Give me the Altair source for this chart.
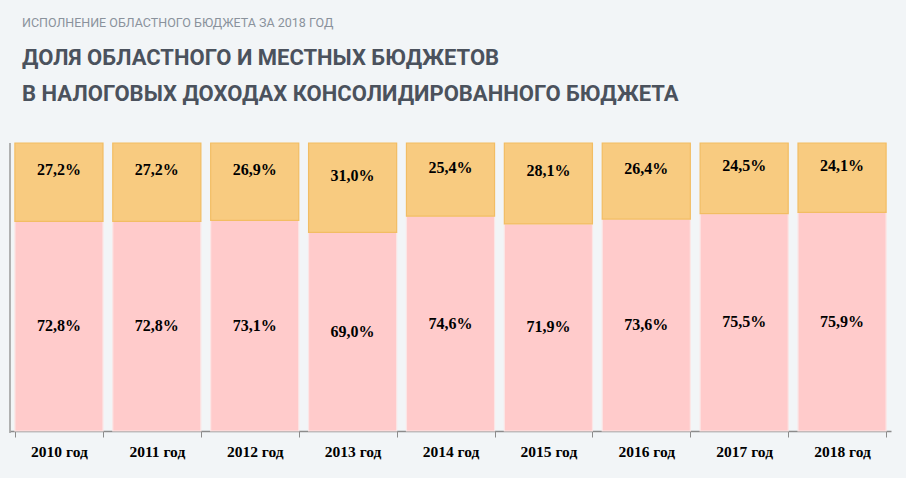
import altair as alt
import pandas as pd

years = ["2010 год", "2011 год", "2012 год", "2013 год", "2014 год",
         "2015 год", "2016 год", "2017 год", "2018 год"]
regional = [72.8, 72.8, 73.1, 69.0, 74.6, 71.9, 73.6, 75.5, 75.9]
local = [27.2, 27.2, 26.9, 31.0, 25.4, 28.1, 26.4, 24.5, 24.1]

def fmt(v):
    return f"{v:.1f}".replace(".", ",") + "%"

rows = []
for y, r, l in zip(years, regional, local):
    rows.append({"year": y, "part": "Областной бюджет", "value": r, "ord": 0,
                 "label": fmt(r), "y0": 0.0, "y1": r})
    rows.append({"year": y, "part": "Местные бюджеты", "value": l, "ord": 1,
                 "label": fmt(l), "y0": r, "y1": r + l})
df = pd.DataFrame(rows)
df["mid"] = (df["y0"] + df["y1"]) / 2

W, H = 881, 288

xenc = alt.X("year:N", sort=years,
             scale=alt.Scale(paddingInner=0.1, paddingOuter=0.05),
             axis=alt.Axis(title=None, labelAngle=0, labelFont="Liberation Serif",
                           labelFontWeight="bold", labelFontSize=15.5, labelColor="#000000",
                           labelPadding=7, domainColor="#8c8c8c", tickColor="#8c8c8c",
                           tickSize=6, tickBand="extent", domainWidth=1.5))
yscale = alt.Scale(domain=[0, 100], nice=False)

base = alt.Chart(df)

shadow = base.transform_filter(alt.datum.ord == 1).mark_bar(
    color="#d6dadd", width=alt.RelativeBandSize(0.97)
).encode(
    x=xenc,
    y=alt.Y("y1:Q", scale=yscale, axis=None),
    y2=alt.datum(0),
)

bars = base.mark_bar(strokeWidth=1.2).encode(
    x=xenc,
    y=alt.Y("y0:Q", scale=yscale, axis=None),
    y2="y1:Q",
    color=alt.Color("part:N", scale=alt.Scale(domain=["Областной бюджет", "Местные бюджеты"],
                                              range=["#ffcbcb", "#f8cb80"]), legend=None),
    stroke=alt.Stroke("part:N", scale=alt.Scale(domain=["Областной бюджет", "Местные бюджеты"],
                                                range=["#fbe6e6", "#f2bd63"]), legend=None),
)

labels_low = base.transform_filter(alt.datum.ord == 0).mark_text(
    font="Liberation Serif", fontWeight="bold", fontSize=16, color="#000000"
).encode(x=xenc, y=alt.Y("mid:Q", scale=yscale), text="label:N")

labels_high = base.transform_filter(alt.datum.ord == 1).mark_text(
    font="Liberation Serif", fontWeight="bold", fontSize=16, color="#000000", dy=-12
).encode(x=xenc, y=alt.Y("mid:Q", scale=yscale), text="label:N")

left_rule = alt.Chart(pd.DataFrame({"a": [0]})).mark_rule(color="#9a9a9a", strokeWidth=1.5).encode(
    x=alt.value(0), y=alt.value(0), y2=alt.value(H + 2))

tdf = pd.DataFrame({"a": [0]})
sub = alt.Chart(tdf).mark_text(
    text="ИСПОЛНЕНИЕ ОБЛАСТНОГО БЮДЖЕТА ЗА 2018 ГОД", align="left", baseline="alphabetic",
    font="Roboto", fontSize=12.5, color="#8a929c"
).encode(x=alt.value(12), y=alt.value(-116))
t1 = alt.Chart(tdf).mark_text(
    text="ДОЛЯ ОБЛАСТНОГО И МЕСТНЫХ БЮДЖЕТОВ", align="left", baseline="alphabetic",
    font="Roboto", fontWeight="bold", fontSize=22,
    color="#4b525d"
).encode(x=alt.value(12), y=alt.value(-78))
t2 = alt.Chart(tdf).mark_text(
    text="В НАЛОГОВЫХ ДОХОДАХ КОНСОЛИДИРОВАННОГО БЮДЖЕТА", align="left", baseline="alphabetic",
    font="Roboto", fontWeight="bold", fontSize=22,
    color="#4b525d"
).encode(x=alt.value(12), y=alt.value(-42))

chart = alt.layer(shadow, bars, labels_low, labels_high, left_rule, sub, t1, t2).properties(
    width=W, height=H, background="#f2f5f7",
    padding={"left": 10, "top": 143, "right": 15, "bottom": 47},
    autosize=alt.AutoSizeParams(type="none"),
).configure_view(stroke=None)

chart.save("out.html", embed_options={"renderer": "svg", "actions": False})
